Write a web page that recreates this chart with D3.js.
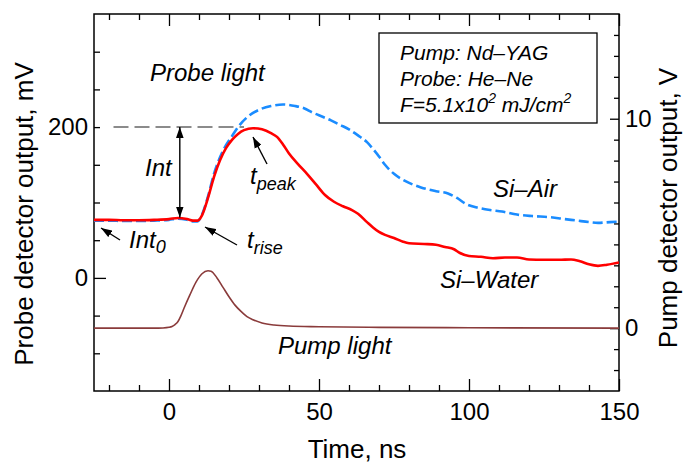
<!DOCTYPE html>
<html><head><meta charset="utf-8">
<script src="https://cdn.jsdelivr.net/npm/d3@7"></script>
<style>
body{margin:0;background:#fff}
svg{display:block}
text{font-family:"Liberation Sans",Arial,Helvetica,sans-serif;fill:#000}
</style>
</head><body>
<svg id="chart" width="685" height="463"></svg>
<script>
// ---------------- data ----------------
const timeWater = [-25,-20,-15,-10,-5,0,3,6,8,9.5,11,13,15,17,19,21,23,25,28,31,34,36,38,40,43,46,49,52,55,58,61,63,66,68,70,72,75,78,80,85,89,92,95,97,100,104,108,112,116,120,125,130,134,137,140,143,146,150];
const siWater   = [77,77,76.5,76.5,77,78,79.5,78,76,76,83,106,134,156,172,183,191,196,198.5,197,192,187,177,165,151,138,124,110,101,95,90,85,74,67,61,57,53,48,46,45,44,41,38,33,29,28,26,27,27,24.5,24,24,24.5,22,18,16,17.5,20.5];

const timeAir = [-25,-20,-15,-10,-5,0,3,6,8,9.5,11,13,15,17,19,21,23,26,30,34,38,42,45,48,51,54,57,60,63,66,68,70,72,75,79,84,89,93,96,99,103,107,111,116,121,127,132,136,140,143,147,150];
const siAir   = [76,76,75.5,75.5,76,77,78.5,77,75,75,84,108,138,160,176,188,200,213,223,228,230,228,225,219,214,209,203,197,189,180,171,161,150,138,128,120,115,112,106,98,93,90,88,84,82,80.5,78,76,74,73,74,74.5];

const timePump = [-25,-15,-5,-2,0,1,2,3,4,5,7,9,11,13,14,16,18,20,22,24,26,28,31,35,40,50,70,100,150];
const pumpV    = [0,0,0,0.01,0.04,0.08,0.17,0.32,0.6,0.95,1.6,2.2,2.6,2.74,2.72,2.4,1.95,1.5,1.1,0.8,0.55,0.4,0.25,0.15,0.1,0.07,0.04,0.02,0];

const xMajorTicks = [0,50,100,150];
const xMinorTicks = [-20,-10,10,20,30,40,60,70,80,90,110,120,130,140];
const yLeftLabeled = [0,200];
const yLeftMinor = [-100,-50,50,100,150,250,300];
const yRightLabeled = [0,10];
const yRightMinor = [-2,-1,1,2,3,4,5,6,7,8,9,11,12,13,14];

const refLevel = 200;     // dashed Int reference level (mV)
const int0Level = 80;     // bottom of Int arrow (mV)

// ---------------- layout ----------------
const svg = d3.select("#chart");
const L = 94, R = 619, T = 14, B = 391;
const x = d3.scaleLinear().domain([-25,150]).range([L,R]);
const yL = d3.scaleLinear().domain([-150,350]).range([B,T]);
const yR = d3.scaleLinear().domain([-3,15]).range([B,T]);

const defs = svg.append("defs");
defs.append("clipPath").attr("id","clip").append("rect")
  .attr("x",L).attr("y",T).attr("width",R-L).attr("height",B-T);
defs.append("marker").attr("id","ah").attr("viewBox","0 0 10 7")
  .attr("refX",10).attr("refY",3.5).attr("markerWidth",11).attr("markerHeight",8)
  .attr("markerUnits","userSpaceOnUse").attr("orient","auto-start-reverse")
  .append("path").attr("d","M0,0 L10,3.5 L0,7 Z").attr("fill","#000");

// ---------------- axes ----------------
function styleAxis(g){
  g.select(".domain").remove();
  g.selectAll("line").attr("stroke","#000").attr("stroke-width",1.3);
  g.selectAll("text").style("font-size","24px").attr("fill","#000")
   .style("font-family","'Liberation Sans',Arial,sans-serif");
}
// bottom
svg.append("g").attr("transform",`translate(0,${B})`)
  .call(d3.axisBottom(x).tickValues(xMinorTicks).tickSize(-6).tickFormat("")).call(styleAxis);
svg.append("g").attr("transform",`translate(0,${B})`)
  .call(d3.axisBottom(x).tickValues(xMajorTicks).tickSize(-12).tickPadding(12).tickFormat(d3.format("d"))).call(styleAxis);
// top
svg.append("g").attr("transform",`translate(0,${T})`)
  .call(d3.axisTop(x).tickValues(xMinorTicks).tickSize(-6).tickFormat("")).call(styleAxis);
svg.append("g").attr("transform",`translate(0,${T})`)
  .call(d3.axisTop(x).tickValues(xMajorTicks).tickSize(-12).tickFormat("")).call(styleAxis);
// left
svg.append("g").attr("transform",`translate(${L},0)`)
  .call(d3.axisLeft(yL).tickValues(yLeftMinor).tickSize(-6).tickFormat("")).call(styleAxis);
const gl = svg.append("g").attr("transform",`translate(${L},0)`)
  .call(d3.axisLeft(yL).tickValues(yLeftLabeled).tickSize(-6).tickPadding(6).tickFormat(d3.format("d"))).call(styleAxis);
gl.selectAll(".tick line").attr("x2",d=>d===0?12:6);
// right
svg.append("g").attr("transform",`translate(${R},0)`)
  .call(d3.axisRight(yR).tickValues(yRightMinor).tickSize(-5).tickFormat("")).call(styleAxis);
svg.append("g").attr("transform",`translate(${R},0)`)
  .call(d3.axisRight(yR).tickValues(yRightLabeled).tickSize(-9).tickPadding(6).tickFormat(d3.format("d"))).call(styleAxis);

// frame
svg.append("rect").attr("x",L).attr("y",T).attr("width",R-L).attr("height",B-T)
  .attr("fill","none").attr("stroke","#000").attr("stroke-width",1.5);

// axis titles
svg.append("text").attr("x",357).attr("y",458).attr("text-anchor","middle")
  .style("font-size","26px").text("Time, ns");
svg.append("text").attr("transform","translate(33,214) rotate(-90)").attr("text-anchor","middle")
  .style("font-size","26px").text("Probe detector output, mV");
svg.append("text").attr("transform","translate(677,208) rotate(-90)").attr("text-anchor","middle")
  .style("font-size","26px").text("Pump detector output, V");

// ---------------- curves ----------------
const plot = svg.append("g").attr("clip-path","url(#clip)");
const lineL = (ts,vs)=>d3.line().curve(d3.curveMonotoneX).x((d,i)=>x(ts[i])).y(d=>yL(d))(vs);
const lineR = (ts,vs)=>d3.line().curve(d3.curveMonotoneX).x((d,i)=>x(ts[i])).y(d=>yR(d))(vs);

plot.append("path").attr("d",lineR(timePump,pumpV)).attr("fill","none")
  .attr("stroke","#8a3b3b").attr("stroke-width",1.6);
plot.append("path").attr("d",lineL(timeAir,siAir)).attr("fill","none")
  .attr("stroke","#1a8cff").attr("stroke-width",2.6).attr("stroke-dasharray","10,4");
plot.append("path").attr("d",lineL(timeWater,siWater)).attr("fill","none")
  .attr("stroke","#ff0000").attr("stroke-width",2.6);

// dashed reference line at 200 mV
svg.append("line").attr("x1",x(-18.5)).attr("x2",x(25)).attr("y1",yL(refLevel)).attr("y2",yL(refLevel))
  .attr("stroke","#666").attr("stroke-width",1.5).attr("stroke-dasharray","15,6");
// Int double arrow
svg.append("line").attr("x1",x(3.6)).attr("x2",x(3.6)).attr("y1",yL(refLevel)).attr("y2",yL(int0Level))
  .attr("stroke","#000").attr("stroke-width",1.4)
  .attr("marker-start","url(#ah)").attr("marker-end","url(#ah)");

// pointer arrows
function arrow(x1,y1,x2,y2){
  svg.append("line").attr("x1",x1).attr("y1",y1).attr("x2",x2).attr("y2",y2)
    .attr("stroke","#000").attr("stroke-width",1.4).attr("marker-end","url(#ah)");
}
arrow(120,240,101,228);   // Int0
arrow(237,245,205,227);   // t_rise
arrow(267,164,253,137);   // t_peak

// ---------------- annotations ----------------
function itext(xp,yp,s,size){
  return svg.append("text").attr("x",xp).attr("y",yp).style("font-style","italic")
    .style("font-size",(size||24)+"px").text(s);
}
itext(150,81,"Probe light");
itext(145,176,"Int");
const tp = itext(250,184,"t"); tp.append("tspan").attr("dy",6).style("font-size","18px").text("peak");
const i0 = itext(129,248,"Int"); i0.append("tspan").attr("dy",5).style("font-size","18px").text("0");
const tr = itext(247,248,"t"); tr.append("tspan").attr("dy",6).style("font-size","18px").text("rise");
itext(493,197,"Si\u2013Air");
itext(440,288,"Si\u2013Water");
itext(278,354,"Pump light");

// info box
svg.append("rect").attr("x",379).attr("y",33).attr("width",218).attr("height",90)
  .attr("fill","#fff").attr("stroke","#000").attr("stroke-width",1.3);
itext(400,60,"Pump: Nd\u2013YAG",21);
itext(400,86,"Probe: He\u2013Ne",21);
const f = itext(400,112,"F=5.1x10",21);
f.append("tspan").attr("dy",-9).style("font-size","14px").text("2");
f.append("tspan").attr("dy",9).text(" mJ/cm");
f.append("tspan").attr("dy",-9).style("font-size","14px").text("2");
</script>
</body></html>
